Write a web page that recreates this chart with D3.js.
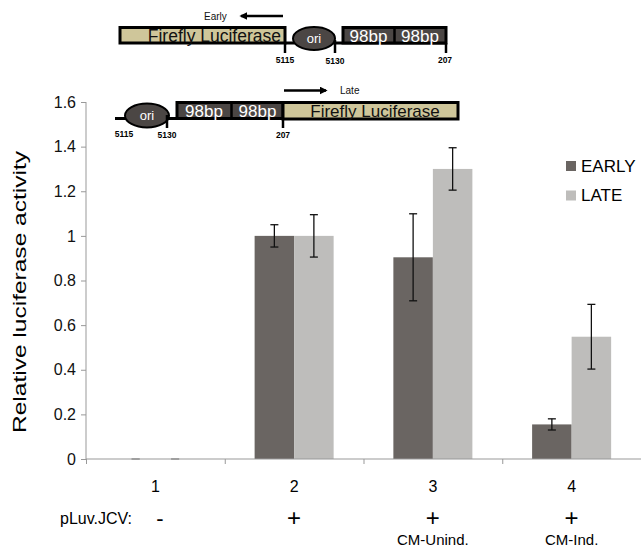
<!DOCTYPE html>
<html>
<head>
<meta charset="utf-8">
<script src="https://cdn.jsdelivr.net/npm/d3@7"></script>
<style>
  body { margin: 0; background: #fff; }
  text { font-family: "Liberation Sans", Arial, Helvetica, sans-serif; }
</style>
</head>
<body>
<script>
var width = 641;
var height = 549;

// data
var categories = ["1", "2", "3", "4"];
var series = ["EARLY", "LATE"];
var early = [0, 1, 0.904, 0.155];
var earlyErr = [0, 0.05, 0.195, 0.025];
var late = [0, 1, 1.3, 0.548];
var lateErr = [0, 0.095, 0.095, 0.145];
var plasmid = ["-", "+", "+", "+"];
var condition = ["", "", "CM-Unind.", "CM-Ind."];
var yTicks = [0, 0.2, 0.4, 0.6, 0.8, 1, 1.2, 1.4, 1.6];

var colors = { "EARLY": "#6a6562", "LATE": "#bebdbb" };
var tan = "#cfc69a", darkBox = "#4b4644";

var svg = d3.select("body").append("svg")
  .attr("width", width)
  .attr("height", height);

var x0 = d3.scaleBand().domain(categories).range([86, 641]).padding(0);
var x1 = d3.scaleBand().domain(series).range([0, x0.bandwidth()])
  .paddingInner(0).paddingOuter(0.756);
var y = d3.scaleLinear().domain([0, 1.6]).range([459, 102]);

var rows = categories.map(function(c, i) {
  return { cat: c, vals: [
    { s: "EARLY", v: early[i], e: earlyErr[i] },
    { s: "LATE", v: late[i], e: lateErr[i] }
  ]};
});

// bars
var groups = svg.selectAll("g.cat").data(rows).enter().append("g")
  .attr("class", "cat")
  .attr("transform", function(d) { return "translate(" + x0(d.cat) + ",0)"; });

groups.selectAll("rect").data(function(d) { return d.vals; }).enter().append("rect")
  .attr("x", function(d) { return x1(d.s); })
  .attr("width", x1.bandwidth())
  .attr("y", function(d) { return y(d.v); })
  .attr("height", function(d) { return y(0) - y(d.v); })
  .attr("fill", function(d) { return colors[d.s]; });

// error bars
var err = groups.selectAll("g.err").data(function(d) { return d.vals; }).enter().append("g")
  .attr("class", "err")
  .attr("stroke", "#111")
  .attr("stroke-width", 1.3);
err.append("line")
  .attr("x1", function(d) { return x1(d.s) + x1.bandwidth() / 2; })
  .attr("x2", function(d) { return x1(d.s) + x1.bandwidth() / 2; })
  .attr("y1", function(d) { return y(d.v + d.e); })
  .attr("y2", function(d) { return y(d.v - d.e); });
[1, -1].forEach(function(sign) {
  err.append("line")
    .attr("x1", function(d) { return x1(d.s) + x1.bandwidth() / 2 - 4; })
    .attr("x2", function(d) { return x1(d.s) + x1.bandwidth() / 2 + 4; })
    .attr("y1", function(d) { return y(d.v + sign * d.e); })
    .attr("y2", function(d) { return y(d.v + sign * d.e); })
    .attr("stroke", function(d) { return d.v === 0 ? "#999" : "#111"; });
});

// y axis
var yAxis = svg.append("g")
  .attr("transform", "translate(86,0)")
  .call(d3.axisLeft(y).tickValues(yTicks).tickSize(5).tickPadding(5)
    .tickFormat(function(d) { return d3.format("")(d); }));
yAxis.selectAll("path, line").attr("stroke", "#999");
yAxis.selectAll("text").attr("font-size", 16).attr("fill", "#111")
  .style("font-family", "Liberation Sans, Arial, sans-serif");
yAxis.select(".domain").attr("d", "M0," + y(1.6) + "V" + y(0));

// x axis with ticks on category edges
var xEdge = d3.scaleLinear().domain([0, categories.length]).range(x0.range());
var xAxis = svg.append("g")
  .attr("transform", "translate(0," + y(0) + ")")
  .call(d3.axisBottom(xEdge).tickValues(d3.range(categories.length + 1))
    .tickSize(5).tickFormat(""));
xAxis.selectAll("path, line").attr("stroke", "#999");
xAxis.select(".domain").attr("d", "M86,0H641");

svg.selectAll("text.catlab").data(categories).enter().append("text")
  .attr("class", "catlab")
  .attr("x", function(d) { return x0(d) + x0.bandwidth() / 2; })
  .attr("y", 492)
  .attr("text-anchor", "middle")
  .attr("font-size", 16)
  .text(function(d) { return d; });

svg.append("text").attr("x", 60).attr("y", 524).attr("font-size", 16).text("pLuv.JCV:");
svg.selectAll("text.plus").data(plasmid).enter().append("text")
  .attr("class", "plus")
  .attr("x", function(d, i) { return i === 0 ? 160 : x0(categories[i]) + x0.bandwidth() / 2; })
  .attr("y", 526)
  .attr("text-anchor", "middle")
  .attr("font-size", function(d) { return d === "+" ? 24 : 22; })
  .text(function(d) { return d; });
svg.selectAll("text.cond").data(condition).enter().append("text")
  .attr("class", "cond")
  .attr("x", function(d, i) { return x0(categories[i]) + x0.bandwidth() / 2; })
  .attr("y", 545)
  .attr("text-anchor", "middle")
  .attr("font-size", 15)
  .text(function(d) { return d; });

// y title
svg.append("text")
  .attr("transform", "translate(26,292) rotate(-90)")
  .attr("text-anchor", "middle")
  .attr("font-size", 18)
  .attr("textLength", 282)
  .attr("lengthAdjust", "spacingAndGlyphs")
  .text("Relative luciferase activity");

// legend
var leg = svg.selectAll("g.leg").data(series).enter().append("g")
  .attr("class", "leg")
  .attr("transform", function(d, i) { return "translate(566," + (161 + i * 29.5) + ")"; });
leg.append("rect").attr("width", 10).attr("height", 10)
  .attr("fill", function(d) { return colors[d]; });
leg.append("text").attr("x", 15).attr("y", 10.5).attr("font-size", 17)
  .text(function(d) { return d; });

// construct diagrams
var defs = svg.append("defs");
defs.append("marker").attr("id", "ah").attr("viewBox", "0 0 10 10")
  .attr("refX", 8).attr("refY", 5).attr("markerWidth", 3.2).attr("markerHeight", 3.2)
  .attr("orient", "auto-start-reverse")
  .append("path").attr("d", "M0,0L10,5L0,10z").attr("fill", "#000");

function arrow(xa, xb, yy) {
  svg.append("line").attr("x1", xa).attr("x2", xb).attr("y1", yy).attr("y2", yy)
    .attr("stroke", "#000").attr("stroke-width", 2.5).attr("marker-end", "url(#ah)");
}
function box(x, yy, w, h, fill) {
  svg.append("rect").attr("x", x).attr("y", yy).attr("width", w).attr("height", h)
    .attr("fill", fill).attr("stroke", "#000").attr("stroke-width", 3);
}
function ori(cx, cy, rx, ry) {
  svg.append("ellipse").attr("cx", cx).attr("cy", cy).attr("rx", rx).attr("ry", ry)
    .attr("fill", darkBox).attr("stroke", "#000").attr("stroke-width", 2);
  svg.append("text").attr("x", cx).attr("y", cy + 4.5).attr("text-anchor", "middle")
    .attr("font-size", 13).attr("fill", "#fff").text("ori");
}
function tick(x, y1, y2) {
  svg.append("line").attr("x1", x).attr("x2", x).attr("y1", y1).attr("y2", y2)
    .attr("stroke", "#000").attr("stroke-width", 2.5);
}
function pos(x, yy, t) {
  svg.append("text").attr("x", x).attr("y", yy).attr("text-anchor", "middle")
    .attr("font-size", 8.5).attr("font-weight", "bold").text(t);
}
function label(x, yy, t, size, fill, anchor) {
  svg.append("text").attr("x", x).attr("y", yy).attr("text-anchor", anchor || "middle")
    .attr("font-size", size).attr("fill", fill).text(t);
}
function backbone(xa, xb, yy) {
  svg.append("line").attr("x1", xa).attr("x2", xb).attr("y1", yy).attr("y2", yy)
    .attr("stroke", "#000").attr("stroke-width", 3);
}

// early construct
backbone(285, 446, 43);
box(120, 27.5, 165, 15.5, tan);
label(281, 41.5, "Firefly Luciferase", 17.5, "#111", "end");
ori(314, 38.5, 21, 11.5);
box(343, 27.5, 103, 15.5, darkBox);
tick(394.5, 27.5, 43);
label(368.5, 41.5, "98bp", 17, "#fff");
label(420, 41.5, "98bp", 17, "#fff");
tick(285, 43, 53); tick(335, 40, 53); tick(446, 43, 53);
pos(285, 63, "5115"); pos(335, 64, "5130"); pos(445, 63, "207");
label(204, 20, "Early", 10, "#111", "start");
arrow(283, 241, 16);

// late construct
backbone(115, 458, 118.5);
ori(147, 115.5, 22, 12);
box(177, 102.5, 106, 16, darkBox);
tick(231.5, 102.5, 118.5);
label(204, 116.5, "98bp", 17, "#fff");
label(257.5, 116.5, "98bp", 17, "#fff");
box(283, 102.5, 175, 16.5, tan);
label(375, 116.5, "Firefly Luciferase", 17, "#111");
tick(167, 115, 128); tick(283, 118, 128);
pos(124, 137, "5115"); pos(167, 138, "5130"); pos(283, 138, "207");
label(340, 93.5, "Late", 10, "#111", "start");
arrow(284, 326, 90.5);
</script>
</body>
</html>
